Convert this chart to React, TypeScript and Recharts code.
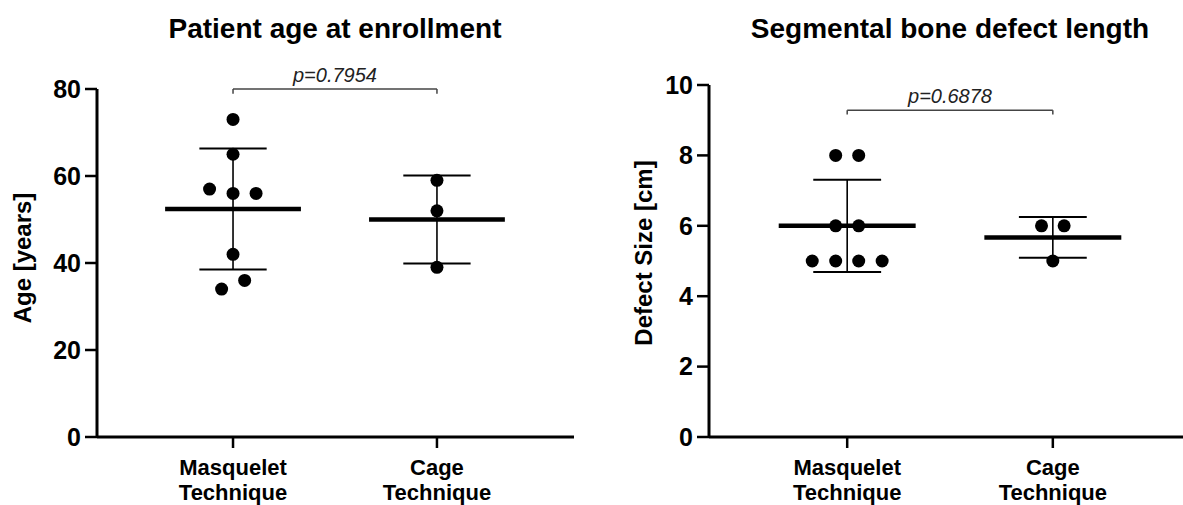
import React from "react";
import { ComposedChart, Scatter, XAxis, YAxis, ReferenceLine } from "recharts";

const FONT = "'Liberation Sans', Arial, Helvetica, sans-serif";

// group labels (two lines each)
const groupLines = [
  ["Masquelet", "Technique"],
  ["Cage", "Technique"],
];

// patient age at enrollment
const ageMasquelet = [73, 65, 57, 56, 56, 42, 36, 34];
const ageMasqueletJitter = [0, 0, -0.115, 0, 0.113, 0, 0.057, -0.056];
const ageCage = [59, 52, 39];
const ageCageJitter = [0, 0, 0];
const ageMean = [52.4, 50.0];
const ageSD = [13.9, 10.1];
const ageTicks = [0, 20, 40, 60, 80];
const ageBracket = 80;
const ageP = "p=0.7954";

// segmental bone defect length
const defectMasquelet = [8, 8, 6, 6, 5, 5, 5, 5];
const defectMasqueletJitter = [-0.056, 0.056, -0.056, 0.056, -0.17, -0.056, 0.056, 0.17];
const defectCage = [6, 6, 5];
const defectCageJitter = [-0.055, 0.055, 0];
const defectMean = [6.0, 5.67];
const defectSD = [1.31, 0.58];
const defectTicks = [0, 2, 4, 6, 8, 10];
const defectBracket = 9.28;
const defectP = "p=0.6878";

function GroupTick({ x, y, payload }: any) {
  const lines = groupLines[Math.round(payload.value) - 1] ?? [];
  return (
    <text x={x} y={y} textAnchor="middle" fill="#000" fontSize={22} fontWeight="bold" fontFamily={FONT}>
      {lines.map((l, i) => (
        <tspan key={i} x={x} dy={i === 0 ? 25 : 25}>
          {l}
        </tspan>
      ))}
    </text>
  );
}

const dot = (props: any) => <circle cx={props.cx} cy={props.cy} r={6.5} fill="#000" />;

interface PanelProps {
  width: number;
  top: number;
  right: number;
  yWidth: number;
  xDomain: [number, number];
  yMax: number;
  yTicks: number[];
  first: number[];
  firstJitter: number[];
  second: number[];
  secondJitter: number[];
  means: number[];
  sds: number[];
  bracketY: number;
  bracketDrop: number;
  pText: string;
}

function Panel(p: PanelProps) {
  const points = [
    ...p.first.map((y, i) => ({ x: 1 + p.firstJitter[i], y })),
    ...p.second.map((y, i) => ({ x: 2 + p.secondJitter[i], y })),
  ];
  const meanHalf = 0.333;
  const capHalf = 0.165;
  const axisStyle = { stroke: "#000", strokeWidth: 3 };
  const tickStyle = { stroke: "#000", strokeWidth: 2.5 };

  return (
    <ComposedChart width={p.width} height={505} margin={{ top: p.top, right: p.right, bottom: 0, left: 0 }}>
      <XAxis
        type="number"
        dataKey="x"
        domain={p.xDomain}
        ticks={[1, 2]}
        allowDataOverflow
        height={68}
        tickSize={11}
        tick={<GroupTick />}
        axisLine={axisStyle}
        tickLine={tickStyle}
      />
      <YAxis
        type="number"
        dataKey="y"
        domain={[0, p.yMax]}
        ticks={p.yTicks}
        allowDataOverflow
        width={p.yWidth}
        tickSize={12}
        tickMargin={4}
        axisLine={axisStyle}
        tickLine={tickStyle}
        tick={{ fontSize: 25, fontWeight: "bold", fill: "#000", fontFamily: FONT }}
      />
      {/* SD whiskers */}
      {p.means.map((m, i) => {
        const cx = i + 1;
        const hi = m + p.sds[i];
        const lo = m - p.sds[i];
        return [
          <ReferenceLine key={`v${i}`} segment={[{ x: cx, y: lo }, { x: cx, y: hi }]} stroke="#000" strokeWidth={1.6} ifOverflow="visible" />,
          <ReferenceLine key={`t${i}`} segment={[{ x: cx - capHalf, y: hi }, { x: cx + capHalf, y: hi }]} stroke="#000" strokeWidth={2} ifOverflow="visible" />,
          <ReferenceLine key={`b${i}`} segment={[{ x: cx - capHalf, y: lo }, { x: cx + capHalf, y: lo }]} stroke="#000" strokeWidth={2} ifOverflow="visible" />,
        ];
      })}
      {/* means */}
      {p.means.map((m, i) => (
        <ReferenceLine
          key={`m${i}`}
          segment={[{ x: i + 1 - meanHalf, y: m }, { x: i + 1 + meanHalf, y: m }]}
          stroke="#000"
          strokeWidth={4.5}
          ifOverflow="visible"
        />
      ))}
      {/* significance bracket */}
      <ReferenceLine
        segment={[{ x: 1, y: p.bracketY }, { x: 2, y: p.bracketY }]}
        stroke="#444"
        strokeWidth={1.5}
        ifOverflow="visible"
        label={{
          value: p.pText,
          position: "top",
          offset: 7,
          fill: "#222",
          fontSize: 20,
          fontStyle: "italic",
          fontFamily: FONT,
        }}
      />
      <ReferenceLine segment={[{ x: 1, y: p.bracketY }, { x: 1, y: p.bracketY - p.bracketDrop }]} stroke="#444" strokeWidth={1.5} ifOverflow="visible" />
      <ReferenceLine segment={[{ x: 2, y: p.bracketY }, { x: 2, y: p.bracketY - p.bracketDrop }]} stroke="#444" strokeWidth={1.5} ifOverflow="visible" />
      <Scatter data={points} dataKey="y" isAnimationActive={false} shape={dot} />
    </ComposedChart>
  );
}

export default function App() {
  return (
    <div style={{ position: "absolute", left: 0, top: 0, width: 1183, height: 505, background: "#fff", overflow: "hidden" }}>
      <div style={{ position: "absolute", left: 0, top: 0 }}>
        <Panel
          width={600}
          top={89}
          right={26}
          yWidth={97}
          xDomain={[0.333, 2.672]}
          yMax={80}
          yTicks={ageTicks}
          first={ageMasquelet}
          firstJitter={ageMasqueletJitter}
          second={ageCage}
          secondJitter={ageCageJitter}
          means={ageMean}
          sds={ageSD}
          bracketY={ageBracket}
          bracketDrop={1.1}
          pText={ageP}
        />
      </div>
      <div style={{ position: "absolute", left: 600, top: 0 }}>
        <Panel
          width={583}
          top={85}
          right={0}
          yWidth={109}
          xDomain={[0.328, 2.633]}
          yMax={10}
          yTicks={defectTicks}
          first={defectMasquelet}
          firstJitter={defectMasqueletJitter}
          second={defectCage}
          secondJitter={defectCageJitter}
          means={defectMean}
          sds={defectSD}
          bracketY={defectBracket}
          bracketDrop={0.12}
          pText={defectP}
        />
      </div>
      <svg width={1183} height={505} style={{ position: "absolute", left: 0, top: 0, pointerEvents: "none" }}>
        <g fontFamily={FONT} fontWeight="bold" fill="#000">
          <text x={335} y={38} textAnchor="middle" fontSize={28}>
            Patient age at enrollment
          </text>
          <text x={950} y={38} textAnchor="middle" fontSize={28}>
            Segmental bone defect length
          </text>
          <text x={23} y={258} textAnchor="middle" dy="0.35em" fontSize={24} transform="rotate(-90 23 258)">
            Age [years]
          </text>
          <text x={644} y={253} textAnchor="middle" dy="0.35em" fontSize={24} transform="rotate(-90 644 253)">
            Defect Size [cm]
          </text>
        </g>
      </svg>
    </div>
  );
}
